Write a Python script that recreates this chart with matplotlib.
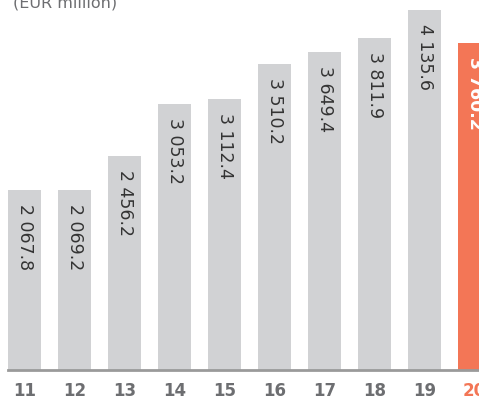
import matplotlib.pyplot as plt

years = ['11', '12', '13', '14', '15', '16', '17', '18', '19', '20']
values = [2067.8, 2069.2, 2456.2, 3053.2, 3112.4, 3510.2, 3649.4, 3811.9, 4135.6, 3760.2]
labels = ['2 067.8', '2 069.2', '2 456.2', '3 053.2', '3 112.4',
          '3 510.2', '3 649.4', '3 811.9', '4 135.6', '3 760.2']

GRAY = '#d1d2d4'
ORANGE = '#f37656'
TEXT = '#6d6e71'

fig = plt.figure(figsize=(4.79, 4.05), dpi=100)
ax = fig.add_axes([0, 35 / 405, 1, 370 / 405])

x = list(range(len(years)))
colors = [GRAY] * (len(years) - 1) + [ORANGE]
ax.bar(x, values, width=0.66, color=colors, zorder=2)

for i, (v, lab) in enumerate(zip(values, labels)):
    last = i == len(years) - 1
    ax.annotate(lab, (i, v), xytext=(0, -10), textcoords='offset points',
                rotation=270, ha='center', va='top', fontsize=12.5,
                color='white' if last else '#333333',
                fontweight='bold' if last else 'normal')

ax.set_xlim(-0.49, 9.09)
ax.set_ylim(0, 4250)
ax.axhline(0, xmin=8 / 479, xmax=1, color='#9a9a9a', lw=2, zorder=3, clip_on=False)

for s in ax.spines.values():
    s.set_visible(False)
ax.set_yticks([])
ax.set_xticks(x)
ax.set_xticklabels(years, fontsize=12, fontweight='bold', color=TEXT)
ax.tick_params(axis='x', length=0, pad=9)
ax.get_xticklabels()[-1].set_color(ORANGE)

fig.text(13 / 479, 1 - 8 / 405, '(EUR million)', fontsize=11.5, color=TEXT, va='baseline')

fig.savefig('out.png', dpi=100)
